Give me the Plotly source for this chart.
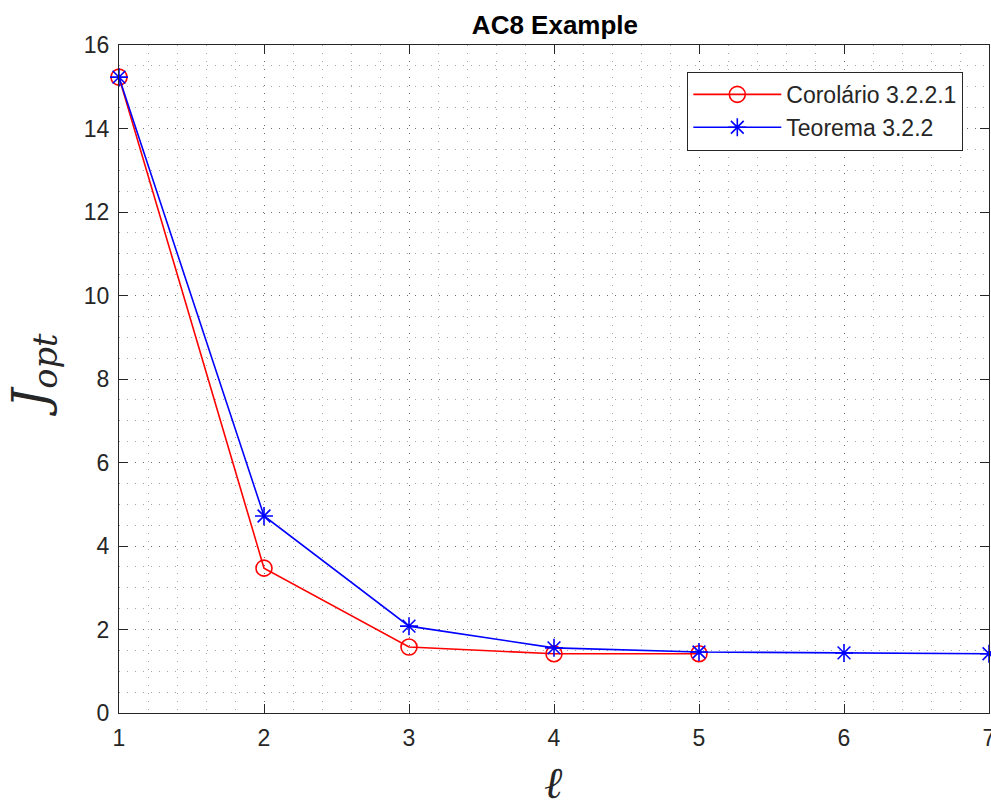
import plotly.graph_objects as go

ell_cor = [1, 2, 3, 4, 5]
j_cor = [15.23, 3.47, 1.58, 1.42, 1.42]
ell_teo = [1, 2, 3, 4, 5, 6, 7]
j_teo = [15.23, 4.72, 2.08, 1.56, 1.46, 1.44, 1.42]
x_ticks = [1, 2, 3, 4, 5, 6, 7]
y_ticks = [0, 2, 4, 6, 8, 10, 12, 14, 16]

fig = go.Figure()
fig.add_trace(go.Scatter(
    x=ell_cor, y=j_cor, mode="lines+markers", name="Corolário 3.2.2.1",
    line=dict(color="#ff0000", width=1.6),
    marker=dict(symbol="circle-open", size=16, color="#ff0000", line=dict(width=1.6)),
    cliponaxis=False))
fig.add_trace(go.Scatter(
    x=ell_teo, y=j_teo, mode="lines+markers", name="Teorema 3.2.2",
    line=dict(color="#0000ff", width=1.6),
    marker=dict(symbol="asterisk-open", size=15, color="#0000ff", line=dict(width=1.6, color="#0000ff")),
    cliponaxis=False))

grid_color = "rgba(0,0,0,0.35)"
grid_dash = "1px,7px"
axis_common = dict(
    showline=True, linecolor="#262626", linewidth=1.2, mirror="ticks",
    ticks="inside", ticklen=9, tickcolor="#262626", tickwidth=1.2,
    showgrid=True, gridcolor=grid_color, griddash=grid_dash, gridwidth=1,
    zeroline=False, automargin=False, ticklabeloverflow="allow",
    tickfont=dict(family="Liberation Sans, Arial, sans-serif", size=23, color="#262626"),
)

fig.update_layout(
    width=991, height=807,
    margin=dict(l=119, r=2, t=45, b=94),
    paper_bgcolor="white", plot_bgcolor="white",
    title=dict(text="<b>AC8 Example</b>", x=0.56, xanchor="center", y=0.969, yanchor="middle",
               font=dict(family="Liberation Sans, Arial, sans-serif", size=26, color="black")),
    xaxis=dict(range=[1, 7], tickvals=x_ticks, ticklabelstandoff=4,
               minor=dict(dtick=0.2, showgrid=True, gridcolor=grid_color, griddash=grid_dash, gridwidth=1, ticks=""),
               **axis_common),
    yaxis=dict(range=[0, 16], tickvals=y_ticks, ticklabelstandoff=4,
               minor=dict(dtick=0.5, showgrid=True, gridcolor=grid_color, griddash=grid_dash, gridwidth=1, ticks=""),
               **axis_common),
    legend=dict(x=0.653, y=0.96, xanchor="left", yanchor="top",
                bgcolor="white", bordercolor="#262626", borderwidth=1.2,
                font=dict(family="Liberation Sans, Arial, sans-serif", size=23, color="#262626"),
                itemwidth=88, tracegroupgap=0),
    showlegend=True,
    annotations=[
        dict(text="<i>ℓ</i>", xref="paper", yref="paper", x=0.4989, y=-0.104,
             xanchor="center", yanchor="middle", showarrow=False,
             font=dict(family="DejaVu Serif, serif", size=44, color="#262626")),
        dict(text="<i>J</i><sub><i>opt</i></sub>", xref="paper", yref="paper", x=-0.0977, y=0.506,
             xanchor="center", yanchor="middle", textangle=-90, showarrow=False,
             font=dict(family="DejaVu Serif, serif", size=48, color="#262626")),
    ],
)

# remove the default 8px page margin so the figure fills the 991x807 window
fig.write_html("out.html",
               config={"displayModeBar": False},
               post_script="document.body.style.margin='0px';document.body.style.overflow='hidden';")
